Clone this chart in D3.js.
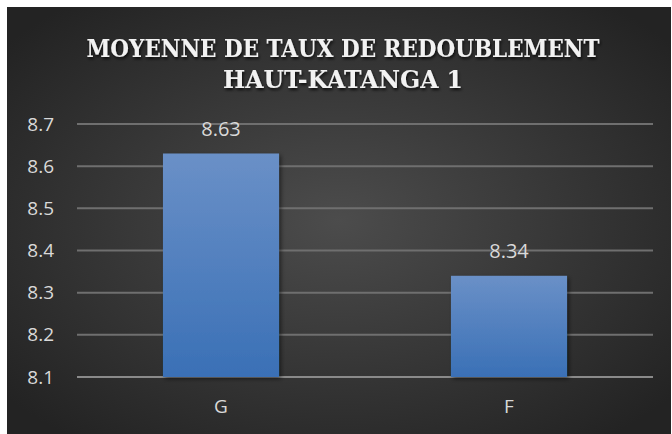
<!DOCTYPE html>
<html>
<head>
<meta charset="utf-8">
<script src="https://cdn.jsdelivr.net/npm/d3@7"></script>
<style>
  body { margin: 0; background: #fff; }
  svg { display: block; }
</style>
</head>
<body>
<svg id="chart" width="672" height="434"></svg>
<script>
const categories = ["G", "F"];
const values = [8.63, 8.34];
const yTicks = [8.1, 8.2, 8.3, 8.4, 8.5, 8.6, 8.7];
const titleLines = ["MOYENNE DE TAUX DE REDOUBLEMENT", "HAUT-KATANGA 1"];

const svg = d3.select("#chart");
const defs = svg.append("defs");

// background radial gradient
const bg = defs.append("radialGradient").attr("id", "bg")
    .attr("cx", "50%").attr("cy", "50%").attr("r", "65%");
bg.append("stop").attr("offset", "0%").attr("stop-color", "#4c4c4c");
bg.append("stop").attr("offset", "100%").attr("stop-color", "#232323");

const barGrad = defs.append("linearGradient").attr("id", "bar")
    .attr("x1", 0).attr("y1", 0).attr("x2", 0).attr("y2", 1);
barGrad.append("stop").attr("offset", "0%").attr("stop-color", "#6a90c7");
barGrad.append("stop").attr("offset", "100%").attr("stop-color", "#3a70b6");

const shadow = defs.append("filter").attr("id", "shadow")
    .attr("x", "-10%").attr("y", "-10%").attr("width", "130%").attr("height", "130%");
shadow.append("feDropShadow").attr("dx", 2).attr("dy", 2).attr("stdDeviation", 2)
    .attr("flood-color", "#000").attr("flood-opacity", 0.5);

const tshadow = defs.append("filter").attr("id", "tshadow");
tshadow.append("feDropShadow").attr("dx", 1).attr("dy", 2).attr("stdDeviation", 1.5)
    .attr("flood-color", "#000").attr("flood-opacity", 0.8);

svg.append("rect")
    .attr("x", 7).attr("y", 7).attr("width", 664).attr("height", 427)
    .attr("fill", "url(#bg)");

// scales
const x = d3.scaleBand()
    .domain(categories)
    .range([77, 653])
    .paddingInner(0.597)
    .paddingOuter(0.2985);

const y = d3.scaleLinear()
    .domain([8.1, 8.7])
    .range([377, 124]);

// gridlines
svg.append("g")
    .selectAll("line")
    .data(yTicks)
    .join("line")
    .attr("x1", 77).attr("x2", 653)
    .attr("y1", d => y(d)).attr("y2", d => y(d))
    .attr("stroke", d => d === 8.1 ? "#8a8a8a" : "#6f6f6f")
    .attr("stroke-width", 2);

// y axis labels
const yAxis = svg.append("g")
    .attr("transform", "translate(54,0)")
    .call(d3.axisLeft(y).tickValues(yTicks).tickFormat(d3.format(".1f")).tickSize(0).tickPadding(0));
yAxis.select(".domain").remove();
yAxis.selectAll("text")
    .attr("fill", "#d9d9d9")
    .attr("font-family", "'Open Sans', sans-serif")
    .attr("font-size", 19);

// bars
svg.append("g")
    .selectAll("rect")
    .data(values)
    .join("rect")
    .attr("x", (d, i) => x(categories[i]))
    .attr("y", d => y(d))
    .attr("width", x.bandwidth())
    .attr("height", d => y(8.1) - y(d))
    .attr("fill", "url(#bar)")
    .attr("filter", "url(#shadow)");

// value labels
svg.append("g")
    .selectAll("text")
    .data(values)
    .join("text")
    .attr("x", (d, i) => x(categories[i]) + x.bandwidth() / 2)
    .attr("y", d => y(d) - 18)
    .attr("text-anchor", "middle")
    .attr("fill", "#d9d9d9")
    .attr("font-family", "'Open Sans', sans-serif")
    .attr("font-size", 20)
    .text(d => d.toFixed(2));

// x axis labels
const xAxis = svg.append("g")
    .attr("transform", "translate(0,377)")
    .call(d3.axisBottom(x).tickSize(0).tickPadding(23));
xAxis.select(".domain").remove();
xAxis.selectAll("text")
    .attr("fill", "#d9d9d9")
    .attr("font-family", "'Open Sans', sans-serif")
    .attr("font-size", 19);

// title
svg.append("g")
    .selectAll("text")
    .data(titleLines)
    .join("text")
    .attr("x", 343)
    .attr("y", (d, i) => 57 + i * 31)
    .attr("text-anchor", "middle")
    .attr("fill", "#f2f2f2")
    .attr("font-family", "'DejaVu Serif', serif")
    .attr("font-weight", "bold")
    .attr("font-size", 24)
    .attr("textLength", (d, i) => i === 0 ? 513 : 240)
    .attr("lengthAdjust", "spacingAndGlyphs")
    .attr("filter", "url(#tshadow)")
    .text(d => d);
</script>
</body>
</html>
